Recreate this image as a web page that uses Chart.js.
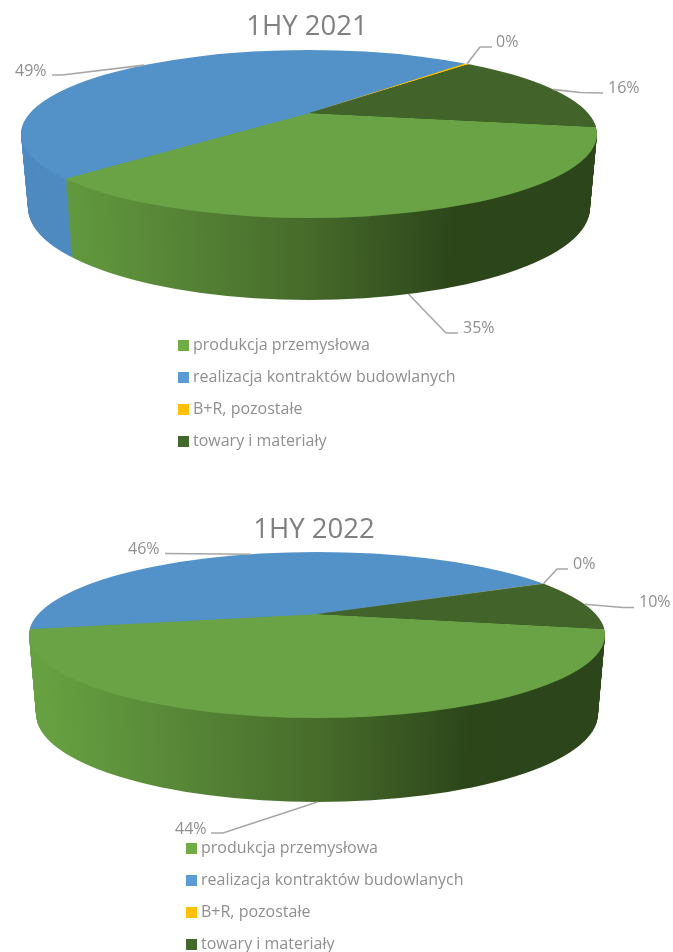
<!DOCTYPE html>
<html>
<head>
<meta charset="utf-8">
<style>
html,body{margin:0;padding:0;background:#fff;width:673px;height:952px;overflow:hidden}
canvas{position:absolute;left:0;display:block}
#c1{top:0}
#c2{top:476px}
</style>
<script src="https://cdn.jsdelivr.net/npm/chart.js@4"></script>
</head>
<body>
<canvas id="c1" width="673" height="476"></canvas>
<canvas id="c2" width="673" height="476"></canvas>
<script>
const categories = ['produkcja przemysłowa','realizacja kontraktów budowlanych','B+R, pozostałe','towary i materiały'];
const values2021 = [35.49, 48.7, 0.31, 15.5];
const values2022 = [44.3, 45.9, 0.1, 9.7];
const title2021 = '1HY 2021';
const title2022 = '1HY 2022';

const sliceColors = ['#69a345','#5391c9','#ffc000','#42632a'];
const legendColors = ['#70ad47','#5b9bd5','#ffc000','#43682b'];
const LABEL_FONT = '16px "Open Sans", sans-serif';
const TEXT = '#8f8f8f';

function swatch(color){
  const c = document.createElement('canvas');
  c.width = 11; c.height = 11;
  const g = c.getContext('2d');
  g.fillStyle = color; g.fillRect(0,0,11,11);
  return c;
}
const swatches = legendColors.map(swatch);

function wallFill(ctx, i, g){
  if (i === 1) return '#4f8bc0';
  if (i === 2 || i === 3) return '#2c451b';
  const x0 = g.cx - g.rx, w = 2*g.rx;
  const grad = ctx.createLinearGradient(x0,0,x0+w,0);
  grad.addColorStop(0,'#69a343');
  grad.addColorStop(0.07,'#659f40');
  grad.addColorStop(0.3,'#578637');
  grad.addColorStop(0.55,'#466a2a');
  grad.addColorStop(0.8,'#2c461a');
  grad.addColorStop(1,'#2c451b');
  return grad;
}

function layer(g,t){
  const rx = g.rx + (g.rxB-g.rx)*t;
  const ry = g.ry + (g.ryB-g.ry)*t;
  const cy = g.cy + (g.cyB-g.cy)*t;
  const k = ry/g.ry;
  return {rx,ry,cy,cx:g.cx,ax:g.cx,ay:cy+(g.ay-g.cy)*k,sx:rx/g.rx,sy:(g.ry/g.rx)*k};
}

function rimPoint(g,t,angle){
  const L = layer(g,t);
  const dx = Math.cos(angle)*L.sx, dy = Math.sin(angle)*L.sy;
  const oy = L.ay-L.cy;
  const A = dx*dx/(L.rx*L.rx)+dy*dy/(L.ry*L.ry);
  const B = 2*oy*dy/(L.ry*L.ry);
  const C = oy*oy/(L.ry*L.ry)-1;
  const r = (-B+Math.sqrt(B*B-4*A*C))/(2*A);
  return [L.ax+dx*r, L.ay+dy*r];
}

function enter(ctx,L,arc){
  ctx.beginPath();
  ctx.ellipse(L.cx,L.cy,L.rx,L.ry,0,0,Math.PI*2);
  ctx.clip();
  ctx.translate(L.ax,L.ay);
  ctx.scale(L.sx,L.sy);
  ctx.translate(-arc.x,-arc.y);
}

function pie3d(g){
  return {
    id:'pie3d',
    afterLayout(chart){
      const tb = chart.titleBlock;
      tb.left = 0; tb.right = 2*g.titleX; tb.top = g.titleTop; tb.bottom = g.titleTop + tb.height;
      const lg = chart.legend;
      lg.left = g.legendX; lg.top = g.legendY;
      lg.right = lg.left + lg.width; lg.bottom = lg.top + lg.height;
    },
    beforeDatasetsDraw(chart){
      const ctx = chart.ctx, arcs = chart.getDatasetMeta(0).data;
      const steps = Math.round(g.cyB-g.cy);
      for (let s=steps; s>=1; s--){
        const L = layer(g,s/steps);
        arcs.forEach((arc,i)=>{
          ctx.save();
          enter(ctx,L,arc);
          const proxy = Object.create(arc);
          proxy.options = Object.assign({},arc.options,{backgroundColor:wallFill(ctx,i,g)});
          proxy.draw(ctx);
          ctx.restore();
        });
      }
      ctx.save();
      enter(ctx,layer(g,0),arcs[0]);
    },
    afterDatasetsDraw(chart){
      const ctx = chart.ctx, arcs = chart.getDatasetMeta(0).data;
      ctx.restore();
      const total = chart.data.datasets[0].data.reduce((a,b)=>a+b,0);
      ctx.save();
      ctx.font = LABEL_FONT;
      ctx.textBaseline = 'middle';
      ctx.textAlign = 'left';
      g.callouts.forEach((c,i)=>{
        const mid = (arcs[i].startAngle+arcs[i].endAngle)/2;
        const p = rimPoint(g,c.onWall?1:0,mid);
        ctx.beginPath();
        ctx.moveTo(p[0],p[1]);
        c.path.forEach(q=>ctx.lineTo(q[0],q[1]));
        ctx.strokeStyle='#a6a6a6';
        ctx.lineWidth=1.6;
        ctx.stroke();
        ctx.fillStyle=TEXT;
        const pct = Math.round(chart.data.datasets[0].data[i]/total*100);
        ctx.fillText(pct+'%',c.text[0],c.text[1]);
      });
      ctx.restore();
    }
  };
}

function build(id,title,values,rotation,g){
  return new Chart(document.getElementById(id),{
    type:'pie',
    data:{labels:categories,datasets:[{data:values,backgroundColor:sliceColors,borderWidth:0,clip:false,radius:400}]},
    options:{
      responsive:false,animation:false,events:[],
      rotation:rotation,
      plugins:{
        tooltip:{enabled:false},
        title:{display:true,text:title,color:'#808080',font:{family:'"Open Sans", sans-serif',size:27.5,weight:'normal'},padding:0},
        legend:{
          position:'chartArea',align:'start',
          labels:{
            color:TEXT,font:{family:'"Open Sans", sans-serif',size:16},
            boxWidth:3,boxHeight:16,pointStyleWidth:3,usePointStyle:true,padding:16,
            generateLabels(chart){
              return Chart.overrides.pie.plugins.legend.labels.generateLabels(chart).map((it,i)=>Object.assign(it,{pointStyle:swatches[i]}));
            }
          }
        }
      }
    },
    plugins:[pie3d(g)]
  });
}

const geo2021 = {
  cx:309,cy:134,rx:288,ry:84,ay:113,cyB:208,rxB:281,ryB:92,
  titleX:307,titleTop:10.5,legendX:166,legendY:321.5,
  callouts:[
    {onWall:true,path:[[446,333],[458,333]],text:[463,328]},
    {path:[[62,75],[52,75]],text:[15,71]},
    {path:[[480,47],[492,47]],text:[496,42]},
    {path:[[580,92.5],[603,93]],text:[608,88]}
  ]
};
const geo2022 = {
  cx:317,cy:159,rx:288,ry:83,ay:138,cyB:238,rxB:281,ryB:88,
  titleX:314,titleTop:38,legendX:174,legendY:348.5,
  callouts:[
    {onWall:true,path:[[223,357],[211,357]],text:[175,353]},
    {path:[[165,77.5]],text:[128,73]},
    {path:[[557,93],[568,93]],text:[573,88]},
    {path:[[623,131.5],[634,131.5]],text:[639,126]}
  ]
};

build('c1',title2021,values2021,99.5,geo2021);
build('c2',title2022,values2022,100.2,geo2022);
</script>
</body>
</html>
